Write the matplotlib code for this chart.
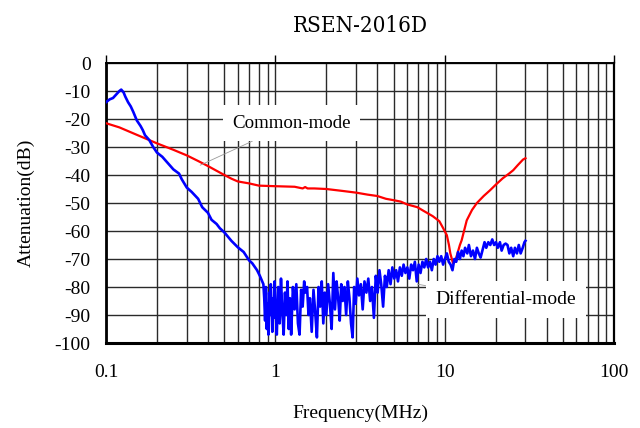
import matplotlib.pyplot as plt
import numpy as np

# %% data (frequency in MHz, attenuation in dB)
cmFreq = [0.1, 0.12, 0.15, 0.2, 0.25, 0.3, 0.35, 0.4, 0.45, 0.5, 0.55, 0.6,
          0.7, 0.8, 1.0, 1.3, 1.45, 1.5, 1.55, 1.7, 2.0, 2.5, 3.0, 3.5, 4.0,
          4.5, 5.0, 5.5, 6.0, 6.9, 7.5, 8.5, 9.3, 9.8, 10.3, 10.6, 10.8,
          11.2, 11.5, 11.9, 12.3, 12.6, 13.5, 14.5, 15.5, 17.0, 18.5, 20.0,
          22.0, 24.0, 25.4, 27.0, 29.0, 30.0]
cmAtt = [-21.5, -23.0, -25.5, -28.7, -31.0, -33.0, -35.0, -36.8, -38.5, -40.0,
         -41.3, -42.3, -43.0, -43.8, -44.0, -44.2, -44.8, -44.3, -44.8, -44.8,
         -45.0, -45.7, -46.3, -47.0, -47.5, -48.5, -49.0, -49.5, -50.5, -51.5,
         -52.8, -54.7, -56.5, -59.0, -61.5, -65.0, -68.0, -71.5, -71.0, -68.0,
         -65.0, -63.3, -56.2, -52.5, -50.0, -47.5, -45.5, -43.5, -41.2, -39.5,
         -38.3, -36.5, -34.5, -34.0]

dmFreq = [0.1, 0.105, 0.11, 0.115, 0.12, 0.123, 0.127, 0.13, 0.135, 0.14,
          0.145, 0.152, 0.16, 0.165, 0.17, 0.18, 0.19, 0.2, 0.215, 0.23,
          0.25, 0.27, 0.28, 0.3, 0.32, 0.35, 0.37, 0.4, 0.42, 0.45, 0.47,
          0.5, 0.55, 0.6, 0.65, 0.7, 0.73, 0.78, 0.81, 0.85,
          0.86, 0.87, 0.88, 0.89, 0.90, 0.91, 0.92, 0.93, 0.94, 0.95, 0.96,
          0.97, 0.98, 0.99, 1.00, 1.02, 1.04, 1.06, 1.08, 1.10, 1.12, 1.14,
          1.16, 1.18, 1.20, 1.22, 1.24, 1.27, 1.30, 1.33, 1.36, 1.39, 1.42,
          1.45, 1.48, 1.51, 1.54, 1.57, 1.60, 1.64, 1.68, 1.72, 1.76, 1.80,
          1.84, 1.88, 1.92, 1.96, 2.00, 2.05, 2.10, 2.15, 2.20, 2.25, 2.30,
          2.35, 2.40, 2.45, 2.50, 2.56, 2.62, 2.68, 2.74, 2.80, 2.86, 2.92,
          2.98, 3.05, 3.12, 3.20, 3.28, 3.36, 3.45, 3.54, 3.63, 3.72, 3.82,
          3.92, 4.02, 4.12, 4.22, 4.33, 4.44, 4.55, 4.67, 4.79, 4.91, 5.04,
          5.17, 5.30, 5.44, 5.58, 5.72, 5.87, 6.02, 6.18, 6.34, 6.50, 6.67,
          6.84, 7.02, 7.20, 7.39, 7.58, 7.78, 7.98, 8.19, 8.40, 8.62, 8.84,
          9.07, 9.30, 9.54, 9.79, 10.04, 10.30, 10.57, 10.84, 11.12, 11.41,
          11.70, 12.0, 12.3, 12.6, 12.9, 13.2, 13.6, 13.9, 14.3, 14.7, 15.1,
          15.5, 15.9, 16.3, 16.7, 17.2, 17.6, 18.1, 18.6, 19.1, 19.6, 20.1,
          20.6, 21.2, 21.7, 22.3, 22.9, 23.5, 24.1, 24.7, 25.4, 26.0, 26.7,
          27.4, 28.1, 28.9, 29.6, 30.0]
dmAtt = [-14.0, -13.0, -12.5, -11.2, -10.0, -9.5, -10.5, -12.0, -14.0, -15.5,
         -17.5, -20.5, -22.5, -24.0, -25.8, -27.5, -30.0, -32.0, -33.5, -35.5,
         -38.0, -39.5, -41.5, -44.5, -46.0, -48.5, -51.5, -53.5, -56.0, -57.5,
         -59.0, -60.5, -63.5, -65.8, -67.5, -70.5, -71.5, -74.0, -76.0, -79.0,
         -84, -92, -80, -95, -86, -97, -82, -90, -79, -88, -96,
         -84, -91, -78, -86, -97, -80, -93, -77, -89, -97, -82,
         -90, -78, -95, -84, -97, -80, -88, -79, -93, -97, -81,
         -87, -78, -82, -80, -90, -84, -96, -81, -89, -98, -80,
         -87, -78, -93, -82, -90, -79, -86, -95, -75, -88, -78,
         -84, -92, -79, -85, -80, -90, -78, -84, -93, -98, -80,
         -86, -77, -83, -79, -88, -78, -82, -77, -85, -80, -91,
         -76, -82, -74, -79, -87, -76, -80, -74, -79, -73, -77,
         -74, -78, -73, -76, -72, -75, -73, -77, -72, -74, -71,
         -78, -72, -75, -71, -73, -70, -73, -71, -74, -70, -72,
         -69, -71, -69, -72, -70, -68, -71, -72, -74, -70,
         -71, -67.5, -70, -67, -69, -66, -68, -65, -69, -67, -70,
         -66, -68, -69.5, -67, -64, -66, -64, -65, -63, -65, -64,
         -66, -64, -67, -65, -64.5, -65, -68, -66, -69, -66, -68,
         -65, -68, -66, -64, -63.5]

xTicks = [0.1, 1, 10, 100]
xTickLabels = ["0.1", "1", "10", "100"]
yTicks = list(range(0, -101, -10))

# %% plot
plt.rcParams["font.family"] = ["Liberation Serif", "DejaVu Serif"]
plt.rcParams["axes.unicode_minus"] = False
fig = plt.figure(figsize=(6.4, 4.28), dpi=100)
ax = fig.add_axes([106 / 640, 85 / 428, 508 / 640, 280 / 428])

ax.set_xscale("log")
ax.set_xlim(0.1, 100)
ax.set_ylim(-100, 0)

ax.grid(True, which="both", axis="x", color="#2a2a2a", lw=1.0)
ax.grid(True, which="major", axis="y", color="#2a2a2a", lw=1.0)

ax.plot(cmFreq, cmAtt, color="#ff0000", lw=1.6, zorder=3)
ax.plot(dmFreq, dmAtt, color="#0000ff", lw=1.9, zorder=3)

ax.set_xticks(xTicks)
ax.set_xticklabels(xTickLabels)
ax.set_yticks(yTicks)
ax.tick_params(axis="x", which="minor", length=0)
ax.tick_params(axis="x", which="major", bottom=False, top=True, direction="out",
               length=6, width=1, pad=9, labelsize=14, labelbottom=True,
               labeltop=False)
ax.tick_params(axis="y", length=0, pad=11, labelsize=14)

ax.spines["bottom"].set_linewidth(2.2)
ax.spines["left"].set_linewidth(2.0)
ax.spines["right"].set_linewidth(1.6)
ax.spines["top"].set_linewidth(1.4)

ax.set_xlabel("Frequency(MHz)", fontsize=14, labelpad=17)
ax.set_ylabel("Attenuation(dB)", fontsize=14, labelpad=14)

# annotations with white boxes over the grid
ax.annotate("Common-mode", xy=(0.36, -36.5), xytext=(0.555, -21.5),
            fontsize=13.6, va="center", ha="left", zorder=5,
            bbox=dict(boxstyle="square,pad=0.5", fc="white", ec="none"),
            arrowprops=dict(arrowstyle="-", color="#999999", lw=0.6,
                            shrinkA=0, shrinkB=0))
ax.annotate("Differential-mode", xy=(6.9, -79.0), xytext=(8.8, -84.5),
            fontsize=14, va="center", ha="left", zorder=5,
            bbox=dict(boxstyle="square,pad=0.5", fc="white", ec="none"),
            arrowprops=dict(arrowstyle="-", color="#999999", lw=0.6,
                            shrinkA=0, shrinkB=0))

fig.text(0.5625, 0.94, "RSEN-2016D", ha="center", va="center", fontsize=16,
         family="DejaVu Serif", fontstretch="condensed")

fig.savefig("out.png", dpi=100)
